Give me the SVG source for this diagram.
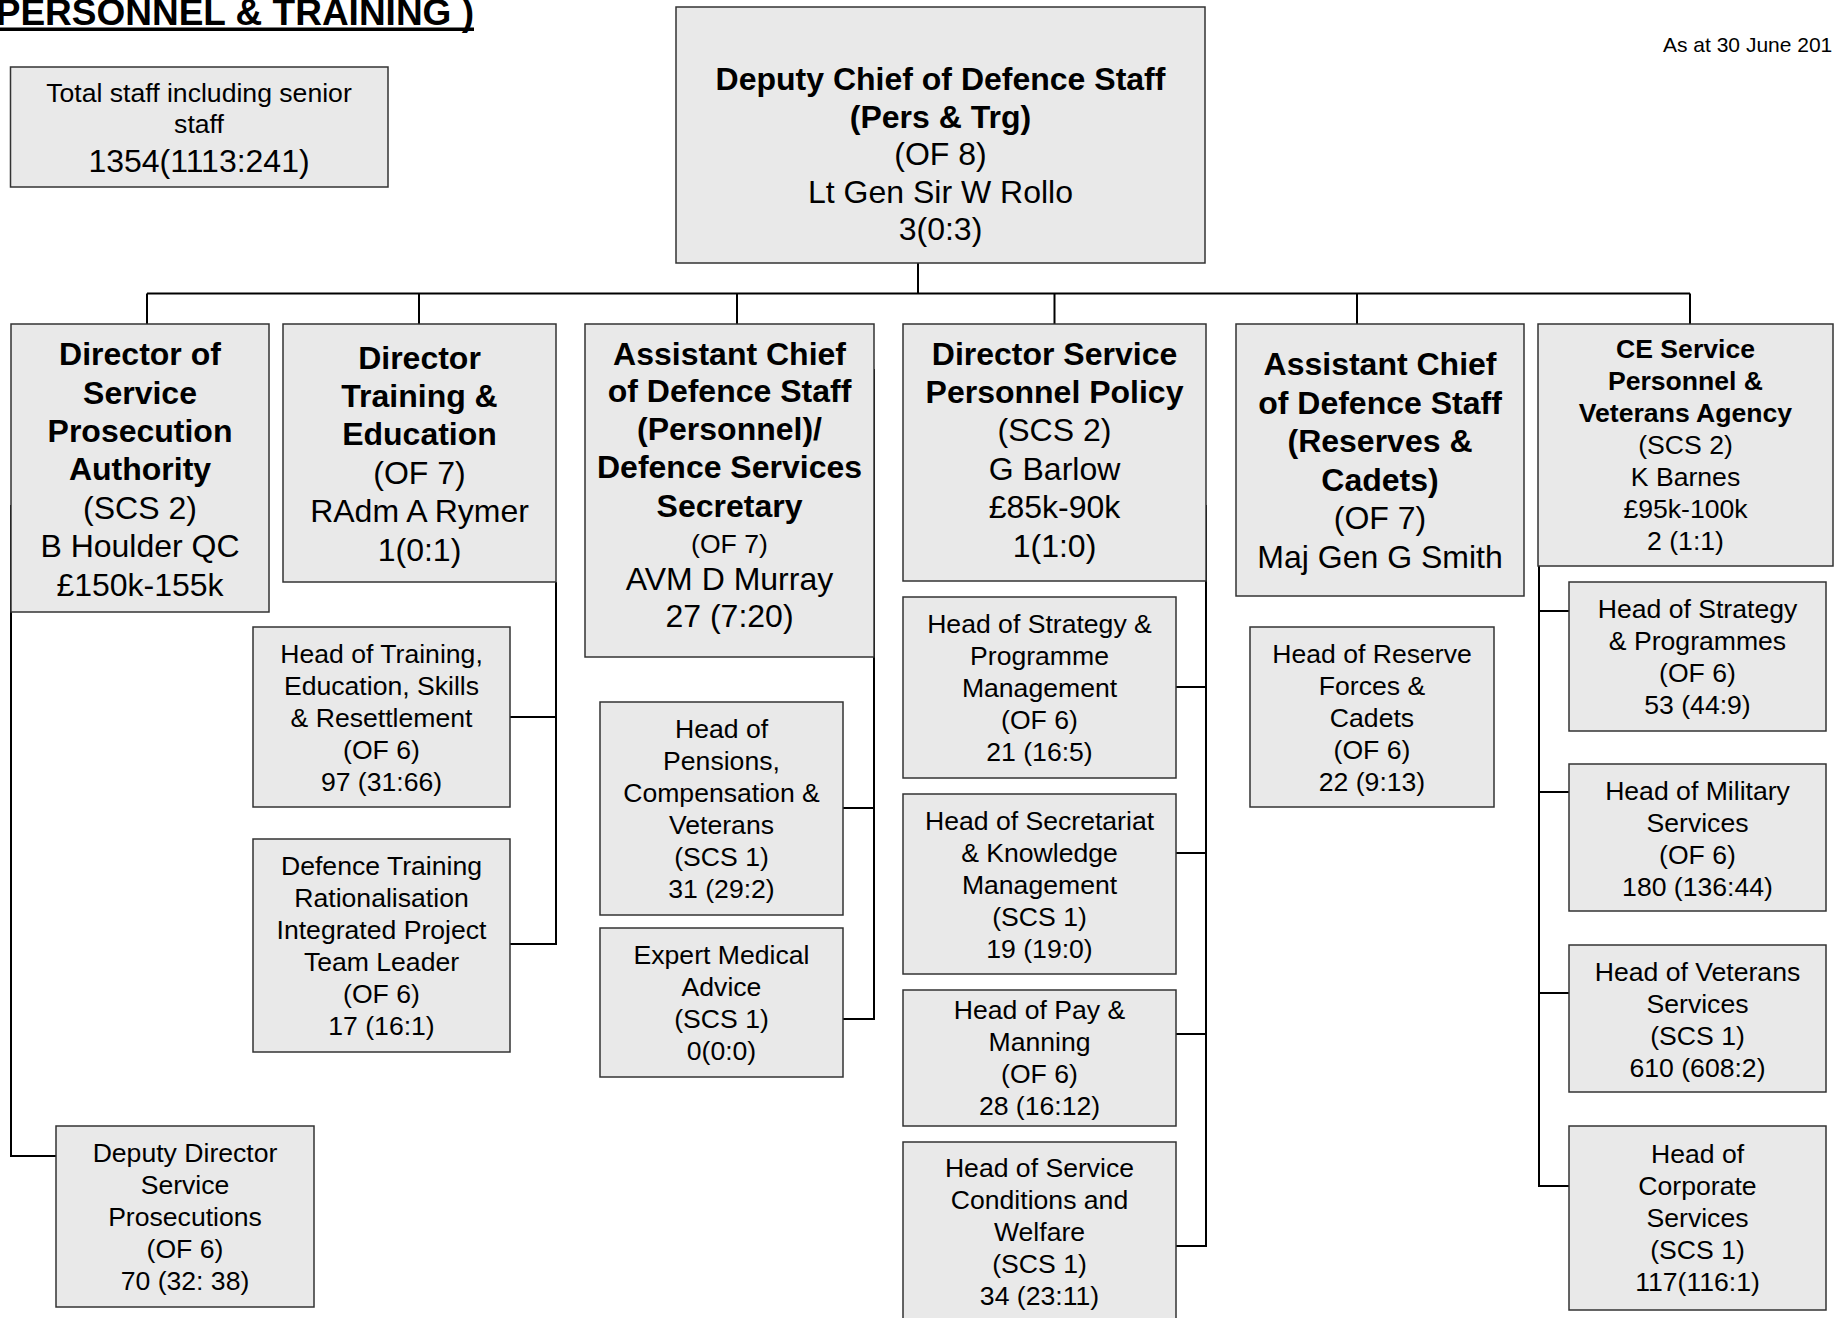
<svg xmlns="http://www.w3.org/2000/svg" width="1834" height="1318" viewBox="0 0 1834 1318">
<style>
.box{fill:#e9e9e9;stroke:#333;stroke-width:1.5}
text{font-family:"Liberation Sans",Arial,sans-serif;fill:#000;text-anchor:middle}
.b{font-size:32px;font-weight:bold}
.r{font-size:32px}
.bs{font-size:26.6px;font-weight:bold}
.s{font-size:26.6px}
.con{fill:none;stroke:#000;stroke-width:2}
</style>
<rect x="0" y="0" width="1834" height="1318" fill="#fff"/>
<g id="title">
<text x="474" y="25" style="font-size:37px;font-weight:bold;text-anchor:end">PERSONNEL &amp; TRAINING )</text>
<rect x="0" y="27.5" width="474" height="3.5" fill="#000"/>
</g>
<g id="date"><text x="1663" y="52" style="font-size:21px;text-anchor:start">As at 30 June 201</text></g>
<g id="connectors" class="con">
<path d="M918 263V293.5M147 293.5H1690M147 293.5V324M419 293.5V324M737 293.5V324M1054.5 293.5V324M1357 293.5V324M1690 293.5V324"/>
<path d="M11 505V1156H56"/>
<path d="M556 582V944H510M510 717H556"/>
<path d="M874 369V1019H843M843 808H874"/>
<path d="M1206 505V1246H1176M1176 687H1206M1176 853H1206M1176 1034H1206"/>
<path d="M1539 490V1186H1569M1539 611H1569M1539 792H1569M1539 993H1569"/>
</g>
<g id="total"><rect class="box" x="10.5" y="67" width="377.5" height="120"/>
<text class="s" x="199" y="102">Total staff including senior</text>
<text class="s" x="199" y="133">staff</text>
<text class="r" x="199" y="172">1354(1113:241)</text></g>
<g id="dcds"><rect class="box" x="676" y="7" width="529" height="256"/>
<text class="b" x="940.5" y="90">Deputy Chief of Defence Staff</text>
<text class="b" x="940.5" y="127.5">(Pers &amp; Trg)</text>
<text class="r" x="940.5" y="165">(OF 8)</text>
<text class="r" x="940.5" y="202.5">Lt Gen Sir W Rollo</text>
<text class="r" x="940.5" y="240">3(0:3)</text></g>
<g id="dspa"><rect class="box" x="11" y="324" width="258" height="288"/>
<text class="b" x="140" y="365">Director of</text>
<text class="b" x="140" y="403.5">Service</text>
<text class="b" x="140" y="442">Prosecution</text>
<text class="b" x="140" y="480">Authority</text>
<text class="r" x="140" y="518.5">(SCS 2)</text>
<text class="r" x="140" y="557">B Houlder QC</text>
<text class="r" x="140" y="595.5">£150k-155k</text></g>
<g id="dte"><rect class="box" x="283" y="324" width="273" height="258"/>
<text class="b" x="419.5" y="368.5">Director</text>
<text class="b" x="419.5" y="407">Training &amp;</text>
<text class="b" x="419.5" y="445">Education</text>
<text class="r" x="419.5" y="483.5">(OF 7)</text>
<text class="r" x="419.5" y="522">RAdm A Rymer</text>
<text class="r" x="419.5" y="560.5">1(0:1)</text></g>
<g id="acdsp"><rect class="box" x="585" y="324" width="289" height="333"/>
<text class="b" x="729.5" y="365">Assistant Chief</text>
<text class="b" x="729.5" y="402">of Defence Staff</text>
<text class="b" x="729.5" y="440">(Personnel)/</text>
<text class="b" x="729.5" y="478">Defence Services</text>
<text class="b" x="729.5" y="517">Secretary</text>
<text class="s" x="729.5" y="553">(OF 7)</text>
<text class="r" x="729.5" y="590">AVM D Murray</text>
<text class="r" x="729.5" y="627">27 (7:20)</text></g>
<g id="dspp"><rect class="box" x="903" y="324" width="303" height="257"/>
<text class="b" x="1054.5" y="365">Director Service</text>
<text class="b" x="1054.5" y="403">Personnel Policy</text>
<text class="r" x="1054.5" y="441">(SCS 2)</text>
<text class="r" x="1054.5" y="480">G Barlow</text>
<text class="r" x="1054.5" y="518">£85k-90k</text>
<text class="r" x="1054.5" y="557">1(1:0)</text></g>
<g id="acdsrc"><rect class="box" x="1236" y="324" width="288" height="272"/>
<text class="b" x="1380" y="375">Assistant Chief</text>
<text class="b" x="1380" y="413.5">of Defence Staff</text>
<text class="b" x="1380" y="452">(Reserves &amp;</text>
<text class="b" x="1380" y="490.5">Cadets)</text>
<text class="r" x="1380" y="529">(OF 7)</text>
<text class="r" x="1380" y="567.5">Maj Gen G Smith</text></g>
<g id="cespva"><rect class="box" x="1538" y="324" width="295" height="242"/>
<text class="bs" x="1685.5" y="358">CE Service</text>
<text class="bs" x="1685.5" y="390">Personnel &amp;</text>
<text class="bs" x="1685.5" y="422">Veterans Agency</text>
<text class="s" x="1685.5" y="454">(SCS 2)</text>
<text class="s" x="1685.5" y="486">K Barnes</text>
<text class="s" x="1685.5" y="518">£95k-100k</text>
<text class="s" x="1685.5" y="550">2 (1:1)</text></g>
<g id="ddsp"><rect class="box" x="56" y="1126" width="258" height="181"/>
<text class="s" x="185" y="1162">Deputy Director</text>
<text class="s" x="185" y="1194">Service</text>
<text class="s" x="185" y="1226">Prosecutions</text>
<text class="s" x="185" y="1258">(OF 6)</text>
<text class="s" x="185" y="1290">70 (32: 38)</text></g>
<g id="htesr"><rect class="box" x="253" y="627" width="257" height="180"/>
<text class="s" x="381.5" y="663">Head of Training,</text>
<text class="s" x="381.5" y="695">Education, Skills</text>
<text class="s" x="381.5" y="727">&amp; Resettlement</text>
<text class="s" x="381.5" y="759">(OF 6)</text>
<text class="s" x="381.5" y="791">97 (31:66)</text></g>
<g id="dtr"><rect class="box" x="253" y="839" width="257" height="213"/>
<text class="s" x="381.5" y="875">Defence Training</text>
<text class="s" x="381.5" y="907">Rationalisation</text>
<text class="s" x="381.5" y="939">Integrated Project</text>
<text class="s" x="381.5" y="971">Team Leader</text>
<text class="s" x="381.5" y="1003">(OF 6)</text>
<text class="s" x="381.5" y="1035">17 (16:1)</text></g>
<g id="hpcv"><rect class="box" x="600" y="702" width="243" height="213"/>
<text class="s" x="721.5" y="738">Head of</text>
<text class="s" x="721.5" y="770">Pensions,</text>
<text class="s" x="721.5" y="802">Compensation &amp;</text>
<text class="s" x="721.5" y="834">Veterans</text>
<text class="s" x="721.5" y="866">(SCS 1)</text>
<text class="s" x="721.5" y="898">31 (29:2)</text></g>
<g id="ema"><rect class="box" x="600" y="928" width="243" height="149"/>
<text class="s" x="721.5" y="964">Expert Medical</text>
<text class="s" x="721.5" y="996">Advice</text>
<text class="s" x="721.5" y="1028">(SCS 1)</text>
<text class="s" x="721.5" y="1060">0(0:0)</text></g>
<g id="hspm"><rect class="box" x="903" y="597" width="273" height="181"/>
<text class="s" x="1039.5" y="633">Head of Strategy &amp;</text>
<text class="s" x="1039.5" y="665">Programme</text>
<text class="s" x="1039.5" y="697">Management</text>
<text class="s" x="1039.5" y="729">(OF 6)</text>
<text class="s" x="1039.5" y="761">21 (16:5)</text></g>
<g id="hskm"><rect class="box" x="903" y="794" width="273" height="180"/>
<text class="s" x="1039.5" y="830">Head of Secretariat</text>
<text class="s" x="1039.5" y="862">&amp; Knowledge</text>
<text class="s" x="1039.5" y="894">Management</text>
<text class="s" x="1039.5" y="926">(SCS 1)</text>
<text class="s" x="1039.5" y="958">19 (19:0)</text></g>
<g id="hpm"><rect class="box" x="903" y="990" width="273" height="136"/>
<text class="s" x="1039.5" y="1019">Head of Pay &amp;</text>
<text class="s" x="1039.5" y="1051">Manning</text>
<text class="s" x="1039.5" y="1083">(OF 6)</text>
<text class="s" x="1039.5" y="1115">28 (16:12)</text></g>
<g id="hscw"><rect class="box" x="903" y="1142" width="273" height="190"/>
<text class="s" x="1039.5" y="1177">Head of Service</text>
<text class="s" x="1039.5" y="1209">Conditions and</text>
<text class="s" x="1039.5" y="1241">Welfare</text>
<text class="s" x="1039.5" y="1273">(SCS 1)</text>
<text class="s" x="1039.5" y="1305">34 (23:11)</text></g>
<g id="hrfc"><rect class="box" x="1250" y="627" width="244" height="180"/>
<text class="s" x="1372" y="663">Head of Reserve</text>
<text class="s" x="1372" y="695">Forces &amp;</text>
<text class="s" x="1372" y="727">Cadets</text>
<text class="s" x="1372" y="759">(OF 6)</text>
<text class="s" x="1372" y="791">22 (9:13)</text></g>
<g id="hsp"><rect class="box" x="1569" y="582" width="257" height="149"/>
<text class="s" x="1697.5" y="618">Head of Strategy</text>
<text class="s" x="1697.5" y="650">&amp; Programmes</text>
<text class="s" x="1697.5" y="682">(OF 6)</text>
<text class="s" x="1697.5" y="714">53 (44:9)</text></g>
<g id="hms"><rect class="box" x="1569" y="764" width="257" height="147"/>
<text class="s" x="1697.5" y="800">Head of Military</text>
<text class="s" x="1697.5" y="832">Services</text>
<text class="s" x="1697.5" y="864">(OF 6)</text>
<text class="s" x="1697.5" y="896">180 (136:44)</text></g>
<g id="hvs"><rect class="box" x="1569" y="945" width="257" height="147"/>
<text class="s" x="1697.5" y="981">Head of Veterans</text>
<text class="s" x="1697.5" y="1013">Services</text>
<text class="s" x="1697.5" y="1045">(SCS 1)</text>
<text class="s" x="1697.5" y="1077">610 (608:2)</text></g>
<g id="hcs"><rect class="box" x="1569" y="1126" width="257" height="184"/>
<text class="s" x="1697.5" y="1163">Head of</text>
<text class="s" x="1697.5" y="1195">Corporate</text>
<text class="s" x="1697.5" y="1227">Services</text>
<text class="s" x="1697.5" y="1259">(SCS 1)</text>
<text class="s" x="1697.5" y="1291">117(116:1)</text></g>
</svg>
